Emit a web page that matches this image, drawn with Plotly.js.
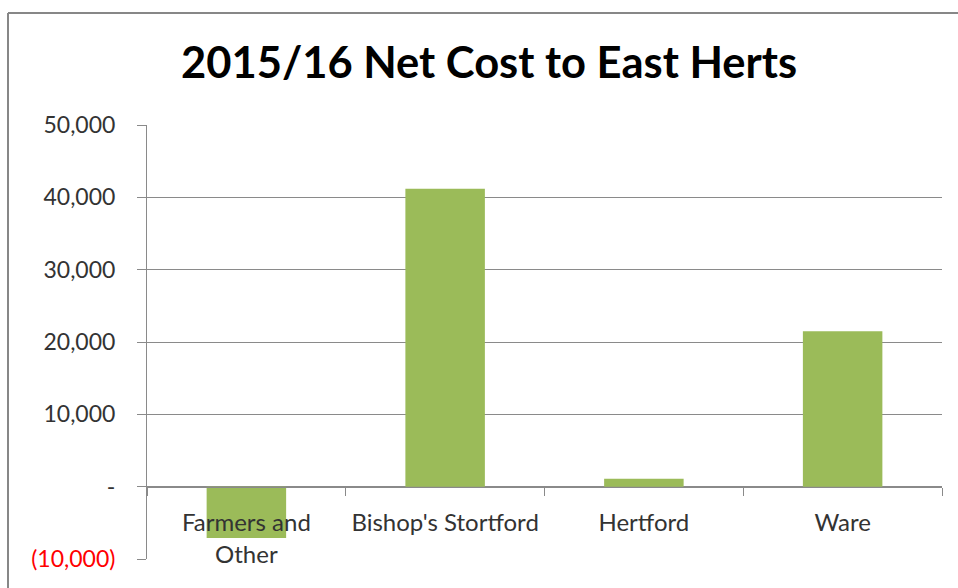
<!DOCTYPE html>
<html>
<head>
<meta charset="utf-8">
<script src="https://cdn.plot.ly/plotly-3.0.1.min.js"></script>
<style>
  html, body { margin: 0; padding: 0; background: #ffffff; }
  #chart { width: 958px; height: 588px; }
</style>
</head>
<body>
<div id="chart"></div>
<script>
// Data
const categories = ["Farmers and<br>Other", "Bishop's Stortford", "Hertford", "Ware"];
const netCost = [-7100, 41200, 1100, 21500];
const yTickVals = [-10000, 0, 10000, 20000, 30000, 40000, 50000];
const yTickText = ["<span style='color:#ff0000'>(10,000)</span>", "-", "10,000", "20,000", "30,000", "40,000", "50,000"];
const chartTitle = "2015/16 Net Cost to East Herts";

const yRange = [-10000, 50000];
const zeroPos = (0 - yRange[0]) / (yRange[1] - yRange[0]);

// plot-area pixel geometry (for frame shapes)
const L = 147, R = 942, T = 125, B = 559;
const px = x => (x - L) / (R - L);
const py = y => (B - y) / (B - T);

const gridColor = "#8a8a8a";
const fontFam = "Lato, 'Open Sans', sans-serif";

const trace = {
  type: "bar",
  x: categories,
  y: netCost,
  marker: { color: "#9bbb59" },
  hoverinfo: "x+y"
};

const layout = {
  width: 958,
  height: 588,
  margin: { l: L, r: 958 - R, t: T, b: 588 - B, pad: 0 },
  paper_bgcolor: "#ffffff",
  plot_bgcolor: "#ffffff",
  showlegend: false,
  bargap: 0.6,
  font: { family: fontFam, color: "#333333", size: 23 },
  title: {
    text: chartTitle,
    font: { family: fontFam, size: 43.5, color: "#000000", weight: "bold" },
    x: 489 / 958,
    xanchor: "center",
    xref: "container",
    y: 1 - 63 / 588,
    yanchor: "middle",
    yref: "container"
  },
  xaxis: {
    type: "category",
    anchor: "free",
    position: zeroPos,
    showline: true,
    linecolor: gridColor,
    linewidth: 1,
    ticks: "outside",
    tickson: "boundaries",
    ticklen: 8,
    tickcolor: gridColor,
    tickwidth: 1,
    showgrid: false,
    ticklabelstandoff: 15,
    tickfont: { family: fontFam, size: 24, color: "#333333" },
    fixedrange: true
  },
  yaxis: {
    range: yRange,
    tickvals: yTickVals,
    ticktext: yTickText,
    showline: true,
    linecolor: gridColor,
    linewidth: 1,
    ticks: "outside",
    ticklen: 9,
    tickcolor: gridColor,
    tickwidth: 1,
    showgrid: true,
    gridcolor: gridColor,
    gridwidth: 1,
    zeroline: false,
    ticklabelstandoff: 17,
    tickfont: { family: fontFam, size: 23, color: "#333333" },
    fixedrange: true
  },
  shapes: [
    { type: "line", xref: "paper", yref: "paper", x0: px(8), x1: px(970), y0: py(13), y1: py(13),
      line: { color: "#878787", width: 2 } },
    { type: "line", xref: "paper", yref: "paper", x0: px(8), x1: px(8), y0: py(13), y1: py(600),
      line: { color: "#878787", width: 2 } }
  ]
};

Plotly.newPlot("chart", [trace], layout, { displayModeBar: false, staticPlot: true });
</script>
</body>
</html>
